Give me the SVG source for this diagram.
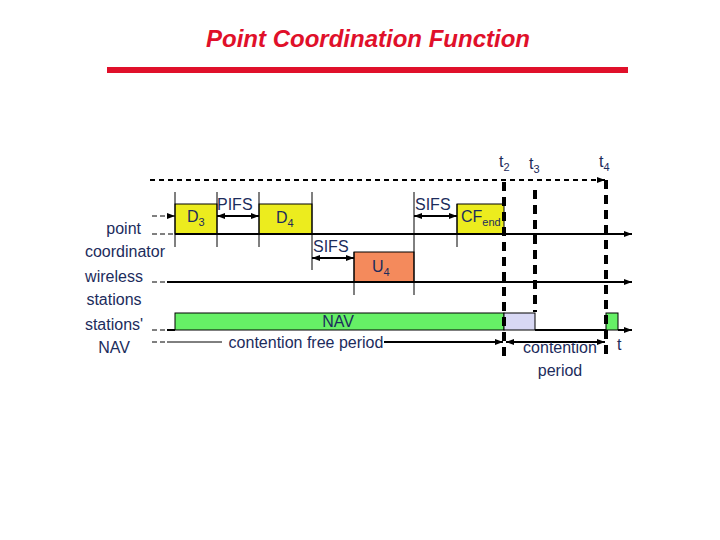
<svg xmlns="http://www.w3.org/2000/svg" width="720" height="540" viewBox="0 0 720 540">
<style>
  .lbl { font-family: "Liberation Sans", Arial, sans-serif; font-size: 16px; fill: #1c2c5c; }
  .sub { font-size: 11px; }
  .title { font-family: "Liberation Sans", Arial, sans-serif; font-size: 24px; font-weight: bold; font-style: italic; fill: #e0102a; }
  .axis { stroke: #000; stroke-width: 2; fill: none; }
  .thin { stroke: #000; stroke-width: 1; fill: none; }
  .dash { stroke: #000; stroke-width: 1; fill: none; stroke-dasharray: 5,3; }
  .topdash { stroke: #000; stroke-width: 2; fill: none; stroke-dasharray: 5,4; }
  .vdash { stroke: #000; stroke-width: 4; fill: none; stroke-dasharray: 9,6; }
  .yel { fill: #ecec1e; stroke: #000; stroke-width: 1; }
  .org { fill: #f48a5c; stroke: #000; stroke-width: 1; }
  .grn { fill: #66f066; stroke: #000; stroke-width: 1; }
  .lav { fill: #d8d8f4; stroke: #000; stroke-width: 1; }
</style>
<defs>
  <marker id="ah" markerWidth="8" markerHeight="6" refX="8" refY="3" orient="auto" markerUnits="userSpaceOnUse">
    <path d="M0,0 L8,3 L0,6 Z" fill="#000"/>
  </marker>
  <marker id="as" markerWidth="8" markerHeight="6" refX="0" refY="3" orient="auto" markerUnits="userSpaceOnUse">
    <path d="M8,0 L0,3 L8,6 Z" fill="#000"/>
  </marker>
</defs>
<rect width="720" height="540" fill="#fff"/>

<g id="title">
  <text class="title" x="368" y="47" text-anchor="middle">Point Coordination Function</text>
  <rect x="107" y="67" width="521" height="6" fill="#e0102a"/>
</g>

<g id="row-labels">
  <text class="lbl" x="141" y="234" text-anchor="end">point</text>
  <text class="lbl" x="125" y="257" text-anchor="middle">coordinator</text>
  <text class="lbl" x="114" y="282" text-anchor="middle">wireless</text>
  <text class="lbl" x="114" y="305" text-anchor="middle">stations</text>
  <text class="lbl" x="114" y="330" text-anchor="middle">stations'</text>
  <text class="lbl" x="114" y="353" text-anchor="middle">NAV</text>
</g>

<g id="D3">
  <rect class="yel" x="175" y="204" width="42" height="30"/>
  <text class="lbl" x="187" y="222">D<tspan class="sub" dy="4">3</tspan></text>
</g>
<g id="D4">
  <rect class="yel" x="259" y="204" width="53" height="30"/>
  <text class="lbl" x="276" y="223">D<tspan class="sub" dy="4">4</tspan></text>
</g>
<g id="U4">
  <rect class="org" x="354" y="252" width="60" height="30"/>
  <text class="lbl" x="372" y="272">U<tspan class="sub" dy="4">4</tspan></text>
</g>
<g id="CFend">
  <rect class="yel" x="457" y="204" width="47" height="30"/>
  <text class="lbl" x="461" y="222">CF<tspan class="sub" dy="4">end</tspan></text>
</g>
<g id="NAV">
  <rect class="grn" x="175" y="313" width="329" height="17"/>
  <text class="lbl" x="338" y="327" text-anchor="middle">NAV</text>
</g>
<g id="contention-box">
  <rect class="lav" x="504" y="313" width="31" height="17"/>
</g>
<g id="NAV2">
  <rect class="grn" x="606" y="313" width="12" height="17"/>
</g>

<g id="connectors">
  <line class="topdash" x1="150" y1="180" x2="605" y2="180" marker-end="url(#ah)"/>
  <line class="dash" x1="152" y1="234" x2="175" y2="234"/>
  <line class="axis" x1="175" y1="234" x2="632" y2="234" marker-end="url(#ah)"/>
  <line class="dash" x1="152" y1="216" x2="167" y2="216"/>
  <line class="thin" x1="167" y1="216" x2="175" y2="216" marker-end="url(#ah)"/>
  <line class="dash" x1="152" y1="282" x2="167" y2="282"/>
  <line class="axis" x1="167" y1="282" x2="632" y2="282" marker-end="url(#ah)"/>
  <line class="dash" x1="152" y1="330" x2="167" y2="330"/>
  <line class="axis" x1="167" y1="330" x2="175" y2="330"/>
  <line class="axis" x1="535" y1="330" x2="606" y2="330"/>
  <line class="axis" x1="618" y1="330" x2="632" y2="330" marker-end="url(#ah)"/>
  <line class="dash" x1="152" y1="342" x2="167" y2="342"/>
  <line class="thin" x1="167" y1="342" x2="222" y2="342"/>
  <line class="axis" x1="384" y1="342" x2="503" y2="342" marker-end="url(#ah)"/>
  <line class="axis" x1="506" y1="342" x2="605" y2="342" marker-start="url(#as)" marker-end="url(#ah)"/>
  <line class="thin" x1="175" y1="192" x2="175" y2="247"/>
  <line class="thin" x1="217" y1="192" x2="217" y2="247"/>
  <line class="thin" x1="259" y1="192" x2="259" y2="247"/>
  <line class="thin" x1="312" y1="192" x2="312" y2="270"/>
  <line class="thin" x1="354" y1="252" x2="354" y2="295"/>
  <line class="thin" x1="414" y1="192" x2="414" y2="295"/>
  <line class="thin" x1="457" y1="204" x2="457" y2="247"/>
  <line class="axis" x1="217" y1="216" x2="259" y2="216" marker-start="url(#as)" marker-end="url(#ah)"/>
  <line class="axis" x1="312" y1="258" x2="354" y2="258" marker-start="url(#as)" marker-end="url(#ah)"/>
  <line class="axis" x1="414" y1="216" x2="457" y2="216" marker-start="url(#as)" marker-end="url(#ah)"/>
  <line class="vdash" x1="504" y1="182" x2="504" y2="357"/>
  <line class="vdash" x1="535" y1="190" x2="535" y2="312"/>
  <line class="vdash" x1="606" y1="180" x2="606" y2="357"/>
</g>

<g id="labels">
  <text class="lbl" x="217" y="210">PIFS</text>
  <text class="lbl" x="415" y="210">SIFS</text>
  <text class="lbl" x="313" y="252">SIFS</text>
  <text class="lbl" x="306" y="348" text-anchor="middle">contention free period</text>
  <text class="lbl" x="560" y="353" text-anchor="middle">contention</text>
  <text class="lbl" x="560" y="376" text-anchor="middle">period</text>
  <text class="lbl" x="617" y="350">t</text>
  <text class="lbl" x="499" y="167">t<tspan class="sub" dy="4">2</tspan></text>
  <text class="lbl" x="529" y="169">t<tspan class="sub" dy="4">3</tspan></text>
  <text class="lbl" x="599" y="167">t<tspan class="sub" dy="4">4</tspan></text>
</g>
</svg>
